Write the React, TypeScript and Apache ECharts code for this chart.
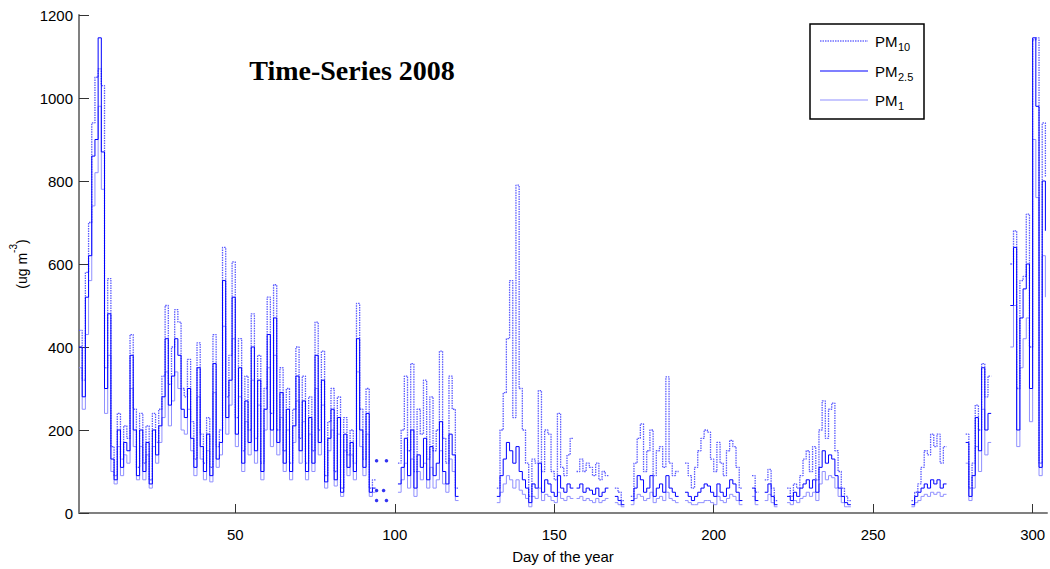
import React, { useEffect, useRef } from "react";
import * as echarts from "echarts";

const N = null;

// Daily values (day 1 .. 304), null = no data
const pm10: (number | null)[] = [
  440, 320, 580, 700, 940, 1050, 1070, 1030, 350, 565,
  160, 90, 240, 130, 210, 180, 430, 250, 110, 240,
  120, 210, 80, 240, 170, 250, 330, 500, 310, 400,
  490, 460, 300, 280, 370, 220, 130, 410, 190, 120,
  230, 110, 430, 160, 200, 640, 280, 380, 605, 230,
  420, 150, 330, 200, 480, 180, 380, 120, 300, 520,
  240, 550, 200, 350, 150, 300, 120, 250, 400, 180,
  330, 120, 280, 150, 460, 200, 390, 90, 220, 300,
  100, 280, 60, 230, 140, 200, 120, 505, 250, 130,
  300, 60, 80, N, N, N, N, N, N, N,
  120, 200, 330, 150, 360, 100, 250, 190, 320, 130,
  280, 150, 200, 390, 180, 120, 330, 250, 60, N,
  N, N, N, N, N, N, N, N, N, N,
  N, 60, 200, 290, 420, 560, 230, 790, 300, 200,
  120, 40, 130, 120, 295, 100, 200, 190, 100, 80,
  240, 110, 90, 140, 180, N, 100, 130, 100, 120,
  110, 90, 120, 80, 100, 90, N, N, 60, 50,
  30, N, N, 40, 120, 180, 215, 100, 150, 200,
  90, 150, 160, 110, 328, 120, 90, 100, N, N,
  120, 90, 60, 110, 150, 180, 200, 195, 130, 100,
  170, 120, 90, 150, 175, 160, 110, 60, N, N,
  N, 90, 50, N, N, 80, 105, 60, 30, N,
  N, N, 60, 40, 70, 60, 90, 130, 150, 100,
  160, 80, 200, 270, 180, 250, 265, 150, 100, 60,
  40, 30, N, N, N, N, N, N, N, N,
  N, N, N, N, N, N, N, N, N, N,
  N, 30, 50, 70, 110, 150, 140, 190, 160, 190,
  120, 160, N, N, N, N, N, N, 190, 60,
  120, 260, 200, 360, 280, 330, N, N, N, N,
  N, N, 600, 680, 300, 560, 570, 720, 400, 1140,
  1145, 120, 940, 810,
];

const pm25: (number | null)[] = [
  400, 280, 520, 620, 860, 900, 1145, 870, 300, 480,
  130, 80, 200, 110, 170, 150, 380, 200, 90, 200,
  100, 170, 70, 200, 140, 210, 280, 420, 260, 330,
  420, 380, 250, 230, 300, 180, 110, 350, 160, 100,
  190, 90, 360, 130, 170, 560, 230, 320, 520, 190,
  350, 120, 270, 170, 400, 150, 320, 100, 250, 430,
  200, 470, 170, 290, 120, 250, 100, 210, 330, 150,
  270, 100, 230, 120, 380, 170, 320, 75, 180, 250,
  80, 230, 50, 190, 110, 170, 100, 420, 200, 110,
  240, 50, 60, N, N, N, N, N, N, N,
  70, 110, 180, 90, 200, 60, 140, 110, 180, 80,
  160, 90, 120, 220, 100, 70, 190, 140, 40, N,
  N, N, N, N, N, N, N, N, N, N,
  N, 40, 90, 130, 170, 150, 120, 160, 100, 80,
  60, 25, 70, 60, 120, 50, 80, 70, 50, 40,
  90, 60, 50, 70, 60, N, 60, 70, 50, 60,
  55, 45, 60, 40, 50, 60, N, N, 40, 30,
  20, N, N, 30, 60, 90, 80, 50, 60, 90,
  40, 60, 70, 50, 90, 60, 50, 40, N, N,
  50, 40, 30, 40, 50, 60, 70, 65, 50, 40,
  70, 50, 40, 60, 80, 70, 50, 30, N, N,
  N, 60, 30, N, N, 50, 70, 40, 20, N,
  N, N, 40, 30, 50, 40, 60, 70, 80, 60,
  80, 50, 110, 150, 120, 140, 130, 90, 60, 40,
  25, 20, N, N, N, N, N, N, N, N,
  N, N, N, N, N, N, N, N, N, N,
  N, 20, 40, 50, 60, 70, 60, 80, 70, 80,
  60, 70, N, N, N, N, N, N, 170, 40,
  90, 230, 150, 350, 200, 240, N, N, N, N,
  N, N, 500, 640, 200, 470, 540, 600, 300, 1145,
  980, 110, 800, 680,
];

const pm1: (number | null)[] = [
  350, 250, 430, 560, 740, 820, 980, 780, 240, 380,
  100, 70, 160, 90, 140, 120, 300, 160, 80, 160,
  80, 140, 60, 160, 120, 170, 230, 340, 210, 270,
  340, 300, 200, 190, 250, 150, 90, 280, 130, 80,
  150, 75, 290, 110, 140, 450, 190, 260, 420, 160,
  280, 100, 220, 140, 320, 120, 260, 80, 200, 350,
  160, 380, 140, 230, 100, 200, 80, 170, 270, 120,
  220, 80, 190, 100, 300, 140, 260, 60, 150, 200,
  65, 190, 40, 150, 90, 140, 80, 340, 160, 90,
  190, 40, 50, N, N, N, N, N, N, N,
  50, 80, 120, 60, 130, 40, 100, 80, 120, 60,
  110, 60, 80, 150, 70, 50, 130, 100, 30, N,
  N, N, N, N, N, N, N, N, N, N,
  N, 25, 50, 70, 90, 80, 60, 80, 55, 45,
  35, 15, 40, 35, 60, 30, 45, 40, 30, 25,
  50, 35, 30, 40, 35, N, 35, 40, 30, 35,
  30, 25, 35, 25, 30, 35, N, N, 25, 20,
  15, N, N, 20, 35, 45, 40, 30, 35, 50,
  25, 35, 40, 30, 50, 35, 30, 25, N, N,
  30, 25, 20, 20, 25, 25, 30, 30, 25, 20,
  40, 30, 25, 35, 45, 40, 30, 20, N, N,
  N, 40, 20, N, N, 30, 45, 25, 15, N,
  N, N, 25, 20, 30, 25, 35, 40, 50, 40,
  50, 30, 70, 100, 80, 90, 85, 60, 40, 25,
  15, 15, N, N, N, N, N, N, N, N,
  N, N, N, N, N, N, N, N, N, N,
  N, 15, 25, 30, 40, 45, 40, 50, 45, 50,
  40, 45, N, N, N, N, N, N, 120, 30,
  60, 160, 100, 250, 140, 170, N, N, N, N,
  N, N, 400, 500, 160, 350, 420, 470, 220, 900,
  760, 90, 620, 520,
];

// isolated readings around day 94-97
const dotDays = [94.3, 97.4, 94.3, 96.5, 94.3, 97.4];
const dotValues = [126, 126, 54, 54, 30, 30];

const xTicks = [50, 100, 150, 200, 250, 300];
const yMin = 0;
const yMax = 1200;
const yStep = 200;

const FONT = "Liberation Sans, Arial, sans-serif";

export default function App() {
  const ref = useRef<HTMLDivElement>(null);
  useEffect(() => {
    document.body.style.margin = "0";
    if (!ref.current) return;
    const chart = echarts.init(ref.current, null, { renderer: "svg" });
    const toPairs = (arr: (number | null)[]) => arr.map((v, i) => [i + 1, v]);
    const legendRows = [
      { y: 41, main: "PM", sub: "10", color: "#6f6fff", type: "dotted", width: 1.5 },
      { y: 71, main: "PM", sub: "2.5", color: "#0000ff", type: "solid", width: 1.1 },
      { y: 100, main: "PM", sub: "1", color: "#9090ff", type: "solid", width: 1.1 },
    ];
    const legendEls: any[] = [
      {
        type: "rect",
        shape: { x: 810, y: 24, width: 114, height: 95 },
        style: { fill: "#fff", stroke: "#000", lineWidth: 1.5 },
        z: 100,
      },
    ];
    legendRows.forEach((r) => {
      legendEls.push({
        type: "line",
        shape: { x1: 820, y1: r.y, x2: 868, y2: r.y },
        style: { stroke: r.color, lineWidth: r.width, lineDash: r.type === "dotted" ? [1.5, 1] : null },
        z: 101,
      });
      legendEls.push({
        type: "text",
        x: 875,
        y: r.y,
        style: { text: r.main, font: `15px ${FONT}`, fill: "#000", textVerticalAlign: "middle" },
        z: 101,
      });
      legendEls.push({
        type: "text",
        x: 898,
        y: r.y + 6,
        style: { text: r.sub, font: `11px ${FONT}`, fill: "#000", textVerticalAlign: "middle" },
        z: 101,
      });
    });

    chart.setOption({
      animation: false,
      backgroundColor: "#fff",
      grid: { left: 79, top: 15, right: 3, bottom: 49.5, containLabel: false },
      xAxis: {
        type: "value",
        min: 1,
        max: 304.5,
        name: "Day of the year",
        nameLocation: "middle",
        nameGap: 36,
        nameTextStyle: { fontFamily: FONT, fontSize: 15, color: "#000" },
        axisLine: { show: true, lineStyle: { color: "#808080", width: 2 } },
        axisTick: { show: true, inside: true, length: 9, lineStyle: { color: "#333", width: 1 }, customValues: xTicks },
        axisLabel: { fontFamily: FONT, fontSize: 15, color: "#000", margin: 14, customValues: xTicks },
        splitLine: { show: false },
      },
      yAxis: {
        type: "value",
        min: yMin,
        max: yMax,
        interval: yStep,
        name: "{a|(ug m}{s|-3}{a|)}",
        nameLocation: "middle",
        nameGap: 50,
        nameRotate: 90,
        nameTextStyle: {
          rich: {
            a: { fontFamily: FONT, fontSize: 14, color: "#000", lineHeight: 20, verticalAlign: "bottom" },
            s: { fontFamily: FONT, fontSize: 10, color: "#000", lineHeight: 20, verticalAlign: "top" },
          },
        },
        axisLine: { show: true, lineStyle: { color: "#808080", width: 2 } },
        axisTick: { show: true, inside: true, length: 10, lineStyle: { color: "#333", width: 1 } },
        axisLabel: {
          fontFamily: FONT,
          fontSize: 15,
          color: "#000",
          margin: 6,
          formatter: (v: number) => String(v),
        },
        splitLine: { show: false },
      },
      series: [
        {
          name: "PM1",
          type: "line",
          step: "end",
          data: toPairs(pm1),
          showSymbol: false,
          lineStyle: { color: "#9090ff", width: 1 },
          itemStyle: { color: "#9090ff" },
        },
        {
          name: "PM10",
          type: "line",
          step: "end",
          data: toPairs(pm10),
          showSymbol: false,
          lineStyle: { color: "#5a5aff", width: 1.3, type: [1.5, 1] },
          itemStyle: { color: "#5a5aff" },
        },
        {
          name: "PM2.5",
          type: "line",
          step: "end",
          data: toPairs(pm25),
          showSymbol: false,
          lineStyle: { color: "#0000ff", width: 1 },
          itemStyle: { color: "#0000ff" },
        },
        {
          name: "dots",
          type: "scatter",
          data: dotDays.map((d, i) => [d, dotValues[i]]),
          symbolSize: 3.5,
          itemStyle: { color: "#0000ee" },
        },
      ],
      graphic: [
        {
          type: "text",
          x: 352,
          y: 70,
          style: {
            text: "Time-Series 2008",
            font: "bold 28px 'Liberation Serif', 'Times New Roman', serif",
            fill: "#000",
            textAlign: "center",
            textVerticalAlign: "middle",
          },
          z: 100,
        },
        ...legendEls,
      ],
    });
    return () => chart.dispose();
  }, []);
  return <div ref={ref} style={{ width: 1050, height: 569 }} />;
}
